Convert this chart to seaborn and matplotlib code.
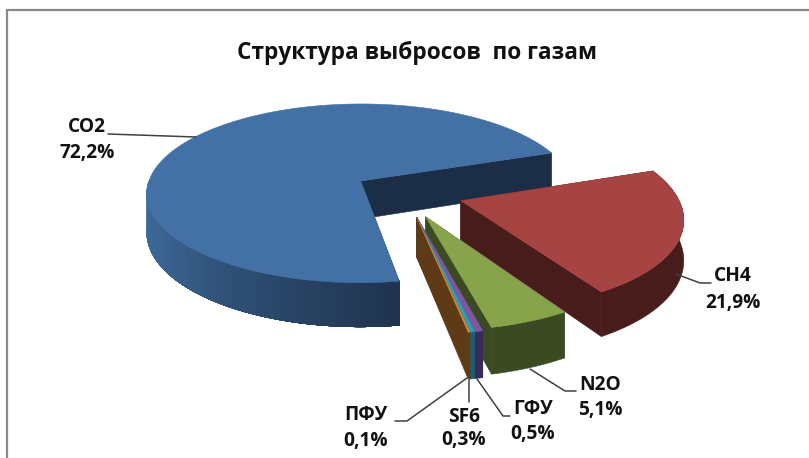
#!/usr/bin/env python3

import numpy as np
import matplotlib
matplotlib.use("Agg")
import matplotlib.pyplot as plt
from matplotlib.patches import Polygon
import seaborn as sns

gases = ["CO2", "CH4", "N2O", "ГФУ", "SF6", "ПФУ"]
shares = [72.2, 21.9, 5.1, 0.5, 0.3, 0.1]
share_labels = ["72,2%", "21,9%", "5,1%", "0,5%", "0,3%", "0,1%"]
title = "Структура выбросов  по газам"

top_colors = ["#4371A6", "#A54442", "#88A44B", "#7E57A0", "#2E9DB8", "#D98B3A"]
wall_colors = ["#1C2E47", "#471C1A", "#3B4A22", "#3A2A5A", "#1F5E6E", "#5F3A17"]

# сдвиг секторов от центра в плоскости диска и их радиус
offsets = [(-0.02, 0), (0.432, -0.215), (0.267, -0.38), (0.228, -0.385), (0.228, -0.385), (0.228, -0.385)]
radii = [0.985, 0.985, 0.98, 1, 1, 1]

# параметры перспективы, пиксели картинки
CX, CY = 365, 181
RX, RY = 215, 89
DEPTH = 38
K = 0.14
START = -80.8

sns.set_theme(style="white")
plt.rcParams["font.family"] = ["Open Sans", "DejaVu Sans"]


def project(u, v, z=0.0):
    p = 1 / (1 + K * v)
    return np.column_stack([CX + RX * u * p, CY - RY * v * p + DEPTH * z * p])


def arc(a0, a1, off, r, z=0.0, n=120):
    t = np.radians(np.linspace(a0, a1, n))
    return project(r * np.cos(t) + off[0], r * np.sin(t) + off[1], z)


def add_poly(ax, pts, color, zorder):
    ax.add_patch(Polygon(pts, closed=True, facecolor=color, edgecolor=color, linewidth=0.4, zorder=zorder))


fig = plt.figure(figsize=(8.09, 4.58), dpi=100)
ax = fig.add_axes([0, 0, 1, 1])
ax.set_xlim(0, 809)
ax.set_ylim(458, 0)
ax.axis("off")

angles = START - np.cumsum([0] + shares) / sum(shares) * 360
co2_shade = sns.blend_palette(["#41709F", "#3A628F", "#2B4A6E", "#20344F"], 60)

z = 1
for i in range(len(gases)):
    a0, a1 = angles[i], angles[i + 1]
    off, r = offsets[i], radii[i]
    apex_top = project(np.array([off[0]]), np.array([off[1]]))
    apex_low = project(np.array([off[0]]), np.array([off[1]]), 1.0)

    # радиальные стенки
    for a in (a0, a1):
        edge_top = arc(a, a, off, r, n=1)
        edge_low = arc(a, a, off, r, 1.0, n=1)
        add_poly(ax, np.vstack([apex_top, edge_top, edge_low, apex_low]), wall_colors[i], z)
        z += 1

    # внешняя стенка
    if i == 0:
        # у большого сектора цвет стенки плавно темнеет слева направо,
        # каждая полоса идет до конца дуги и перекрывается следующей
        edges = np.linspace(-180, a0, len(co2_shade) + 1)
        for j, col in enumerate(co2_shade):
            add_poly(ax, np.vstack([arc(edges[j], a0, off, r),
                                    arc(a0, edges[j], off, r, 1.0)]), col, z)
            z += 1
    else:
        add_poly(ax, np.vstack([arc(a0, a1, off, r), arc(a1, a0, off, r, 1.0)]), wall_colors[i], z)
        z += 1

    # верхняя грань
    add_poly(ax, np.vstack([apex_top, arc(a0, a1, off, r)]), top_colors[i], z)
    z += 1

# рамка области диаграммы
ax.plot([7.5, 7.5], [458, 9.5], color="#8A8A8A", lw=1.6, zorder=z)
ax.plot([7.5, 809], [9.5, 9.5], color="#8A8A8A", lw=1.6, zorder=z)

ax.text(417, 53, title, ha="center", va="center", fontsize=16.3, fontweight="bold", color="#111111", zorder=z)

leaders = {
    "CO2": ([108, 196], [134, 137]),
    "CH4": ([676, 700, 711], [274, 283, 283]),
    "N2O": ([530, 565, 576], [369, 391, 391]),
    "ГФУ": ([477, 503, 510], [379, 416, 416]),
    "SF6": ([469, 469], [380, 402]),
    "ПФУ": ([467, 407, 395], [378, 421, 421]),
}
label_xy = {
    "CO2": (87, 127, 153),
    "CH4": (733, 276, 303),
    "N2O": (600, 385, 410),
    "ГФУ": (533, 409, 434),
    "SF6": (464, 417, 440),
    "ПФУ": (366, 415, 441),
}
for name, text in zip(gases, share_labels):
    xs, ys = leaders[name]
    ax.plot(xs, ys, color="#404040", lw=1.1, zorder=z)
    x, y0, y1 = label_xy[name]
    ax.text(x, y0, name, ha="center", va="center", fontsize=13.8, fontweight="bold", color="#111111", zorder=z)
    ax.text(x, y1, text, ha="center", va="center", fontsize=13.8, fontweight="bold", color="#111111", zorder=z)

fig.savefig("out.png", dpi=100, facecolor="white")
